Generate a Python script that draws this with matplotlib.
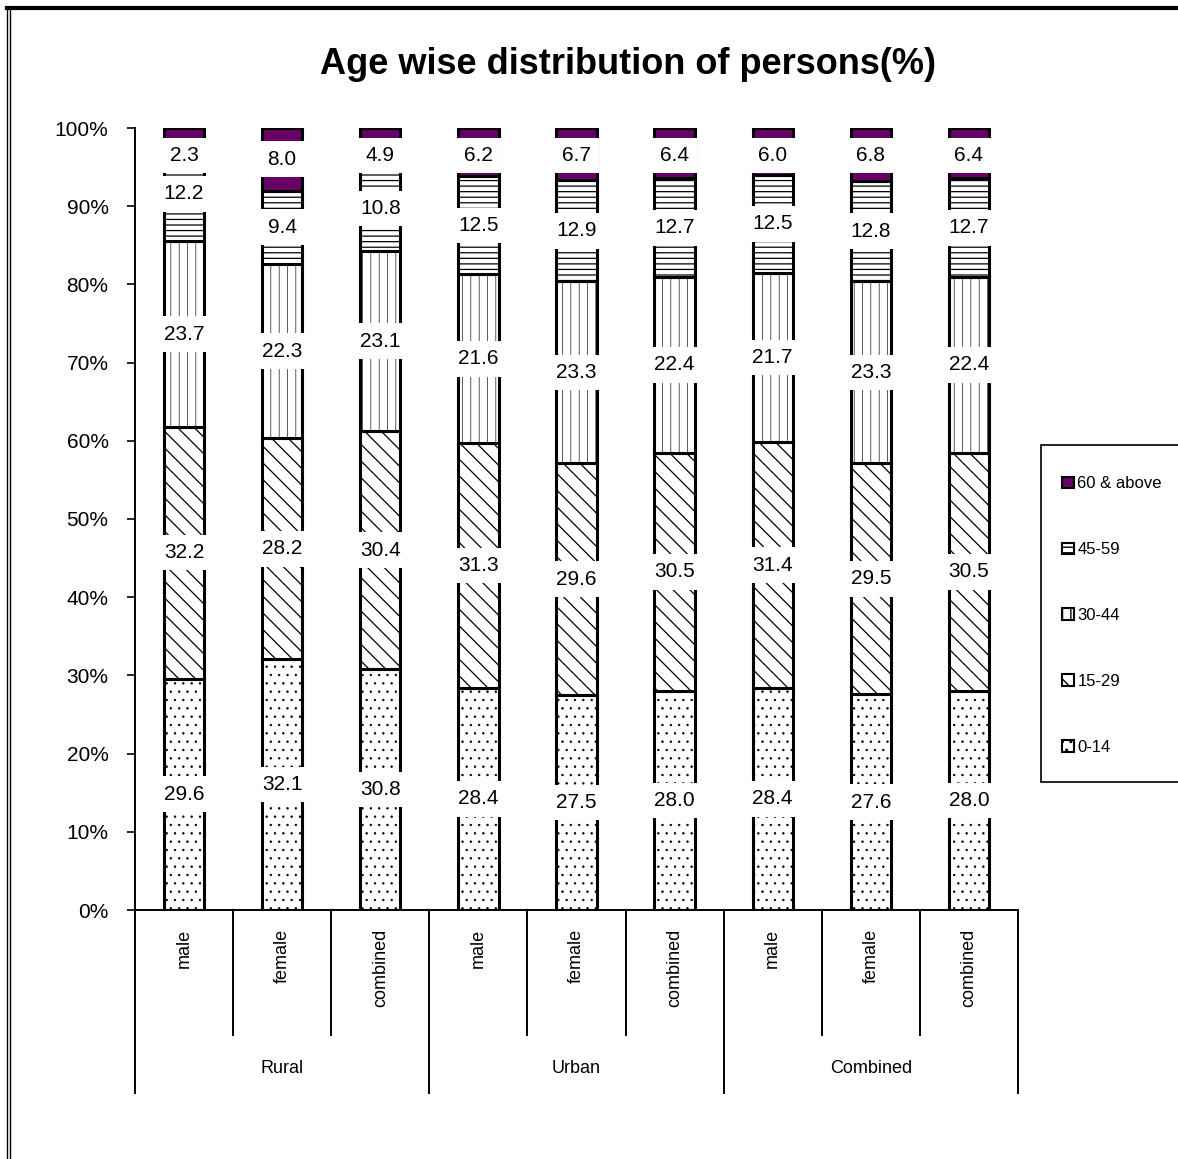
import numpy as np
import matplotlib
matplotlib.use("Agg")
import matplotlib.pyplot as plt
from matplotlib.patches import Patch, Rectangle
from matplotlib.lines import Line2D

plt.rcParams["font.family"] = ["Liberation Sans", "DejaVu Sans"]

groups = ["Rural", "Urban", "Combined"]
sexes = ["male", "female", "combined"]
age_bands = ["0-14", "15-29", "30-44", "45-59", "60 & above"]

# shares (%) per bar, order: Rural m/f/c, Urban m/f/c, Combined m/f/c
age_0_14 = [29.6, 32.1, 30.8, 28.4, 27.5, 28.0, 28.4, 27.6, 28.0]
age_15_29 = [32.2, 28.2, 30.4, 31.3, 29.6, 30.5, 31.4, 29.5, 30.5]
age_30_44 = [23.7, 22.3, 23.1, 21.6, 23.3, 22.4, 21.7, 23.3, 22.4]
age_45_59 = [12.2, 9.4, 10.8, 12.5, 12.9, 12.7, 12.5, 12.8, 12.7]
age_60_up = [2.3, 8.0, 4.9, 6.2, 6.7, 6.4, 6.0, 6.8, 6.4]

series = [age_0_14, age_15_29, age_30_44, age_45_59, age_60_up]
hatches = ["..", "\\\\", "||", "---", ""]
hatch_lw = [0.5, 0.9, 0.45, 0.9, 0.9]
faces = ["white", "white", "white", "white", "#660066"]

fig = plt.figure(figsize=(11.78, 11.59), dpi=100)
ax = fig.add_axes([135 / 1178, 1 - 910 / 1159, (1018 - 135) / 1178, (910 - 128) / 1159])

n = len(age_0_14)
x = np.arange(n) + 0.5
bottom = np.zeros(n)
for vals, h, hl, fc in zip(series, hatches, hatch_lw, faces):
    vals = np.array(vals)
    with plt.rc_context({"hatch.linewidth": hl}):
        bars = ax.bar(x, vals, 0.41, bottom=bottom, color=fc, hatch=h,
                      edgecolor="black", linewidth=2.2, zorder=2)
    for b in bars:
        if hasattr(b, "set_hatch_linewidth"):
            b.set_hatch_linewidth(hl)
    for xi, b, v in zip(x, bottom, vals):
        yc = min(b + v / 2, 96.5)
        ax.text(xi, yc, f"{v:.1f}", ha="center", va="center", fontsize=15,
                zorder=5, bbox=dict(facecolor="white", edgecolor="none", pad=6))
    bottom += vals

ax.set_xlim(0, n)
ax.set_ylim(0, 100)
ax.set_yticks(np.arange(0, 101, 10))
ax.set_yticklabels([f"{t}%" for t in range(0, 101, 10)], fontsize=15)
ax.tick_params(axis="y", direction="out", length=6, width=1.2, pad=13)
ax.set_xticks([])
for s in ["top", "right"]:
    ax.spines[s].set_visible(False)
ax.spines["left"].set_linewidth(1.4)
ax.spines["bottom"].set_linewidth(1.4)

# category axis below the bars
tr = ax.get_xaxis_transform()
for k in range(n + 1):
    low = -0.234 if k % 3 == 0 else -0.16
    ax.plot([k, k], [0, low], color="black", lw=1.4, transform=tr, clip_on=False)
for i, xi in enumerate(x):
    ax.text(xi, -0.024, sexes[i % 3], rotation=90, ha="center", va="top",
            fontsize=13, transform=tr)
for g, name in enumerate(groups):
    ax.text(g * 3 + 1.5, -0.203, name, ha="center", va="center",
            fontsize=13, transform=tr)

fig.text(628 / 1178, 1 - 65 / 1159, "Age wise distribution of persons(%)",
         ha="center", va="center", fontsize=26, fontweight="bold")

# legend box (runs off the right edge)
fig.patches.append(Rectangle((1041 / 1178, 1 - 782 / 1159), 0.2, 337 / 1159,
                             transform=fig.transFigure, facecolor="white",
                             edgecolor="black", lw=1.2))
handles = [Patch(facecolor=fc, edgecolor="black", hatch=h, linewidth=1.5)
           for h, fc in zip(hatches, faces)][::-1]
fig.legend(handles, age_bands[::-1], loc="upper left",
           bbox_to_anchor=(1054 / 1178, 1 - 468 / 1159), frameon=False,
           fontsize=12, handlelength=0.7, handleheight=0.7, handletextpad=0.2,
           labelspacing=3.05, borderpad=0)

# outer frame
fig.add_artist(Line2D([7 / 1178, 1], [1 - 8 / 1159, 1 - 8 / 1159], color="black", lw=3))
fig.add_artist(Line2D([7 / 1178, 7 / 1178], [0, 1 - 8 / 1159], color="black", lw=1))
fig.add_artist(Line2D([10 / 1178, 10 / 1178], [0, 1 - 8 / 1159], color="black", lw=1))

fig.savefig("out.png", dpi=100)
